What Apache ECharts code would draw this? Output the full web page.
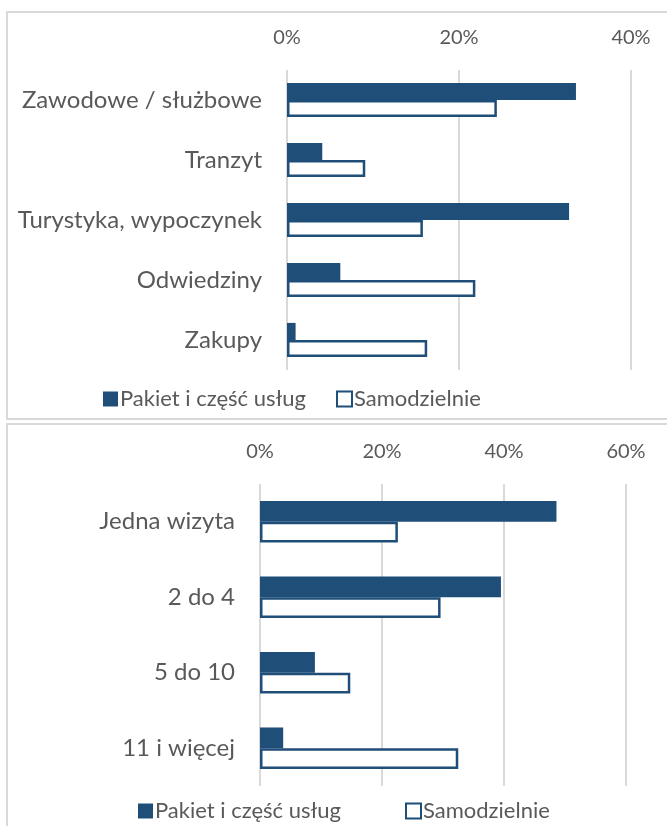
<!DOCTYPE html>
<html>
<head>
<meta charset="utf-8">
<script src="https://cdn.jsdelivr.net/npm/echarts@6/dist/echarts.min.js"></script>
<style>
  html, body { margin: 0; padding: 0; background: #fff; }
  #chart { width: 667px; height: 826px; }
</style>
</head>
<body>
<div id="chart"></div>
<script>
// top chart: purpose of trip
const cel = ['Zawodowe / służbowe', 'Tranzyt', 'Turystyka, wypoczynek', 'Odwiedziny', 'Zakupy'];
const celPakiet = [33.6, 4.1, 32.8, 6.2, 1.0];
const celSamo = [24.4, 9.1, 15.8, 21.9, 16.3];

// bottom chart: number of visits
const wizyty = ['Jedna wizyta', '2 do 4', '5 do 10', '11 i więcej'];
const wizytyPakiet = [48.6, 39.5, 9.0, 3.8];
const wizytySamo = [22.6, 29.6, 14.8, 32.5];

const serieNames = ['Pakiet i część usług', 'Samodzielnie'];
const maxTop = 40;
const maxBottom = 60;

const navy = '#1F4E79';
const grey = '#595959';
const font = 'Lato';

const chart = echarts.init(document.getElementById('chart'));

function valAxis(gridIndex, max) {
  return {
    gridIndex: gridIndex,
    type: 'value',
    position: 'top',
    min: 0,
    max: max,
    interval: 20,
    axisLine: { show: false },
    axisTick: { show: false },
    axisLabel: { formatter: '{value}%', color: grey, fontSize: 20, fontFamily: font, margin: 22 },
    splitLine: { lineStyle: { color: '#D9D9D9', width: 2 } }
  };
}

function catAxis(gridIndex, data) {
  return {
    gridIndex: gridIndex,
    type: 'category',
    inverse: true,
    data: data,
    axisLine: { show: false },
    axisTick: { show: false },
    axisLabel: { color: grey, fontSize: 24, fontFamily: font, margin: 25 }
  };
}

function legendItem(name, left, top) {
  return {
    data: [name],
    left: left,
    top: top,
    padding: 0,
    icon: 'rect',
    itemWidth: 15,
    itemHeight: 15,
    selectedMode: false,
    textStyle: { color: grey, fontSize: 22, fontFamily: font, padding: [0, 0, 0, -3] }
  };
}

const filled = { color: navy };
const hollow = { color: '#ffffff', borderColor: navy, borderWidth: 2.5 };

const option = {
  backgroundColor: '#ffffff',
  animation: false,
  graphic: [
    { type: 'rect', shape: { x: 7, y: 12, width: 680, height: 407 }, style: { fill: 'none', stroke: '#D9D9D9', lineWidth: 2 } },
    { type: 'rect', shape: { x: 7, y: 424, width: 680, height: 430 }, style: { fill: 'none', stroke: '#D9D9D9', lineWidth: 2 } }
  ],
  grid: [
    { left: 287, right: 36, top: 70, height: 300 },
    { left: 260, right: 41, top: 484, height: 302 }
  ],
  xAxis: [valAxis(0, maxTop), valAxis(1, maxBottom)],
  yAxis: [catAxis(0, cel), catAxis(1, wizyty)],
  legend: [
    legendItem(serieNames[0], 103, 388),
    legendItem(serieNames[1], 336, 388),
    legendItem(serieNames[0], 138, 800),
    legendItem(serieNames[1], 405, 800)
  ],
  series: [
    { name: serieNames[0], type: 'bar', xAxisIndex: 0, yAxisIndex: 0, data: celPakiet, itemStyle: filled, barGap: '0%', barCategoryGap: '43%' },
    { name: serieNames[1], type: 'bar', xAxisIndex: 0, yAxisIndex: 0, data: celSamo, itemStyle: hollow, barGap: '0%', barCategoryGap: '43%' },
    { name: serieNames[0], type: 'bar', xAxisIndex: 1, yAxisIndex: 1, data: wizytyPakiet, itemStyle: filled, barGap: '0%', barCategoryGap: '45%' },
    { name: serieNames[1], type: 'bar', xAxisIndex: 1, yAxisIndex: 1, data: wizytySamo, itemStyle: hollow, barGap: '0%', barCategoryGap: '45%' }
  ]
};

chart.setOption(option);
</script>
</body>
</html>
